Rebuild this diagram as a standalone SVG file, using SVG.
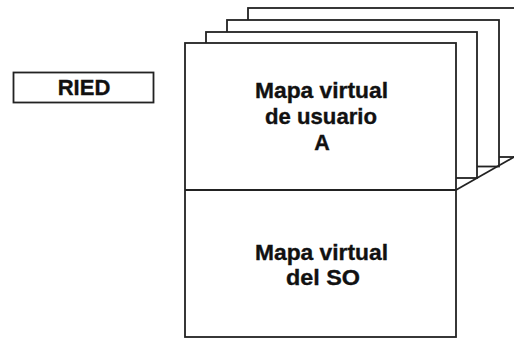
<svg xmlns="http://www.w3.org/2000/svg" width="514" height="338" viewBox="0 0 514 338">
<style>
.pg{fill:#fff;stroke:#222;stroke-width:1.8}
.ln{stroke:#222;stroke-width:1.8;fill:none}
.t{font-family:"Liberation Sans",Arial,sans-serif;font-weight:bold;font-size:21.5px;fill:#111;stroke:#111;stroke-width:0.35;text-anchor:middle}
</style>
<rect width="514" height="338" fill="#fff"/>
<g id="ried">
<rect class="pg" x="13.5" y="72.5" width="140" height="30"/>
<text class="t" x="84" y="95" style="font-size:22px">RIED</text>
</g>
<g id="page4"><rect class="pg" x="248" y="8" width="290" height="149"/></g>
<g id="page3"><rect class="pg" x="227" y="20" width="272" height="146.5"/></g>
<g id="page2"><rect class="pg" x="206" y="32" width="271" height="146"/></g>
<g id="front">
<rect class="pg" x="185" y="43" width="271" height="294"/>
<line class="ln" x1="185" y1="190" x2="456" y2="190"/>
</g>
<g id="connectors">
<line class="ln" x1="456" y1="190" x2="516" y2="155.9"/>
</g>
<g id="user-map">
<text class="t" x="321.5" y="98" textLength="133" lengthAdjust="spacingAndGlyphs">Mapa virtual</text>
<text class="t" x="321" y="123.5" textLength="112" lengthAdjust="spacingAndGlyphs">de usuario</text>
<text class="t" x="322" y="149.5">A</text>
</g>
<g id="os-map">
<text class="t" x="321.5" y="260" textLength="133" lengthAdjust="spacingAndGlyphs">Mapa virtual</text>
<text class="t" x="323" y="285" textLength="74" lengthAdjust="spacingAndGlyphs">del SO</text>
</g>
</svg>
